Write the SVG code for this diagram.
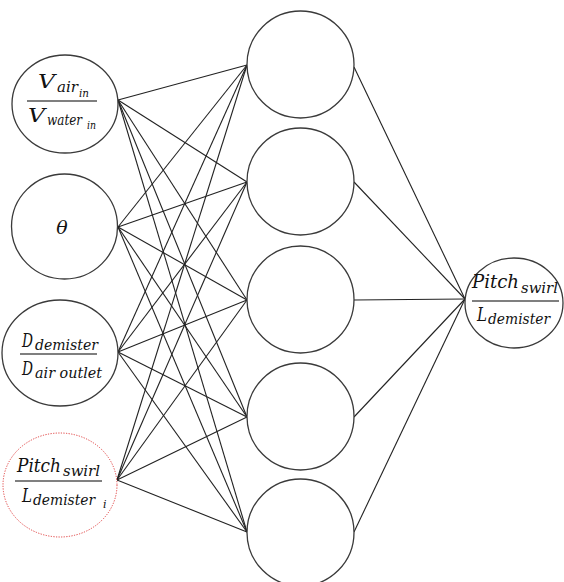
<svg xmlns="http://www.w3.org/2000/svg" width="564" height="582" viewBox="0 0 564 582">
<style>
.n{fill:#fff;stroke:#3a3a3a;stroke-width:1.3}
.r{fill:#fff;stroke:#e03c3c;stroke-width:1;stroke-dasharray:1.2 1.4}
.c line{stroke:#222;stroke-width:1.1}
.bar{stroke:#555;stroke-width:1.6}
text{font-family:"DejaVu Serif","Liberation Serif",serif;font-style:italic;fill:#111}
.m{font-size:19px}
.s{font-size:14px}
.ss{font-size:11px}
</style>
<rect width="564" height="582" fill="#fff"/>
<g id="connectors" class="c">
<line x1="118" y1="100" x2="247" y2="65"/><line x1="118" y1="100" x2="247" y2="182"/><line x1="118" y1="100" x2="247" y2="300"/><line x1="118" y1="100" x2="247" y2="417"/><line x1="118" y1="100" x2="247" y2="532"/>
<line x1="118" y1="227" x2="247" y2="65"/><line x1="118" y1="227" x2="247" y2="182"/><line x1="118" y1="227" x2="247" y2="300"/><line x1="118" y1="227" x2="247" y2="417"/><line x1="118" y1="227" x2="247" y2="532"/>
<line x1="118" y1="352" x2="247" y2="65"/><line x1="118" y1="352" x2="247" y2="182"/><line x1="118" y1="352" x2="247" y2="300"/><line x1="118" y1="352" x2="247" y2="417"/><line x1="118" y1="352" x2="247" y2="532"/>
<line x1="117" y1="480" x2="247" y2="65"/><line x1="117" y1="480" x2="247" y2="182"/><line x1="117" y1="480" x2="247" y2="300"/><line x1="117" y1="480" x2="247" y2="417"/><line x1="117" y1="480" x2="247" y2="532"/>
<line x1="354" y1="67" x2="465" y2="299"/><line x1="354" y1="182" x2="465" y2="299"/><line x1="354" y1="300" x2="465" y2="299"/><line x1="354" y1="417" x2="465" y2="299"/><line x1="354" y1="532" x2="465" y2="299"/>
</g>
<g id="in1">
<ellipse class="n" cx="65" cy="104" rx="53" ry="49"/>
<text class="m" x="38" y="88" textLength="17" lengthAdjust="spacingAndGlyphs">V</text>
<text class="s" x="57" y="92" textLength="21" lengthAdjust="spacingAndGlyphs">air</text>
<text class="ss" x="79" y="97" textLength="10" lengthAdjust="spacingAndGlyphs">in</text>
<line class="bar" x1="27" y1="101" x2="97" y2="101"/>
<text class="m" x="28" y="122" textLength="17" lengthAdjust="spacingAndGlyphs">V</text>
<text class="s" x="47" y="125" textLength="35" lengthAdjust="spacingAndGlyphs">water</text>
<text class="ss" x="87" y="129" textLength="9" lengthAdjust="spacingAndGlyphs">in</text>
</g>
<g id="in2">
<ellipse class="n" cx="64.5" cy="226.5" rx="53" ry="52.5"/>
<text class="m" x="62" y="234" text-anchor="middle" font-size="21">θ</text>
</g>
<g id="in3">
<ellipse class="n" cx="60" cy="353" rx="58" ry="53"/>
<text class="m" x="22" y="347" textLength="11" lengthAdjust="spacingAndGlyphs">D</text>
<text class="s" x="35" y="350" textLength="63" lengthAdjust="spacingAndGlyphs">demister</text>
<line class="bar" x1="20" y1="354" x2="97" y2="354"/>
<text class="m" x="22" y="375" textLength="11" lengthAdjust="spacingAndGlyphs">D</text>
<text class="s" x="35" y="378" textLength="67" lengthAdjust="spacingAndGlyphs">air outlet</text>
</g>
<g id="in4">
<ellipse class="r" cx="60" cy="485" rx="57" ry="52"/>
<text class="m" x="17" y="472" textLength="44" lengthAdjust="spacingAndGlyphs">Pitch</text>
<text class="s" x="63" y="476" textLength="37" lengthAdjust="spacingAndGlyphs">swirl</text>
<line x1="15" y1="481" x2="102" y2="481" stroke="#808080" stroke-width="2"/>
<text class="m" x="22" y="502" textLength="10" lengthAdjust="spacingAndGlyphs">L</text>
<text class="s" x="33" y="505" textLength="62" lengthAdjust="spacingAndGlyphs">demister</text>
<text class="ss" x="103" y="508">i</text>
</g>
<g id="h1"><circle class="n" cx="300.5" cy="64.5" r="53.5"/></g>
<g id="h2"><circle class="n" cx="300.5" cy="181.5" r="53.5"/></g>
<g id="h3"><circle class="n" cx="300.5" cy="299.5" r="53.5"/></g>
<g id="h4"><circle class="n" cx="300.5" cy="416.5" r="53.5"/></g>
<g id="h5"><circle class="n" cx="300.5" cy="532.5" r="53.5"/></g>
<g id="out">
<ellipse class="n" cx="514" cy="303" rx="49" ry="45"/>
<text class="m" x="472" y="288" textLength="47" lengthAdjust="spacingAndGlyphs">Pitch</text>
<text class="s" x="521" y="293" textLength="37" lengthAdjust="spacingAndGlyphs">swirl</text>
<line class="bar" x1="472" y1="301" x2="559" y2="301"/>
<text class="m" x="477" y="321" textLength="10" lengthAdjust="spacingAndGlyphs">L</text>
<text class="s" x="488" y="324" textLength="62" lengthAdjust="spacingAndGlyphs">demister</text>
</g>
</svg>
